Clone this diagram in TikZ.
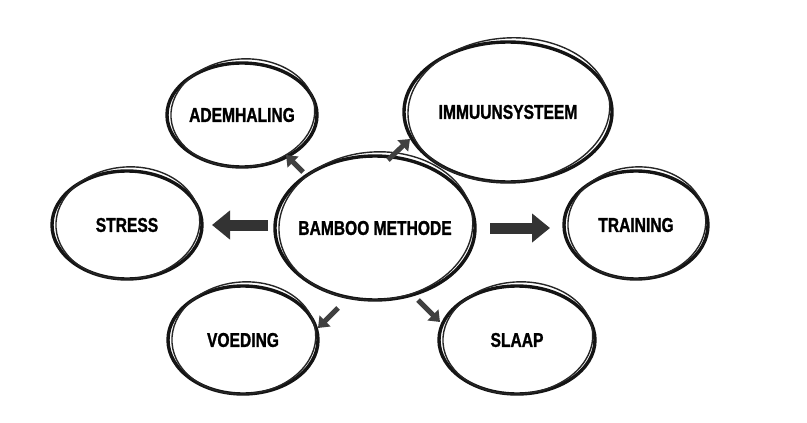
\documentclass[tikz,border=0pt]{standalone}
\usepackage{fontspec}
\setmainfont{Liberation Sans}[FakeStretch=0.78,BoldFeatures={FakeBold=1.2}]
\usetikzlibrary{arrows.meta}
\begin{document}
\begin{tikzpicture}[x=1pt,y=-1pt,
  bub/.style={draw=black!92,line width=3.4pt},
  bub2/.style={draw=black!85,line width=1.4pt},
  lab/.style={font=\bfseries\fontsize{20}{20}\selectfont},
  big/.style={-{Triangle[length=18pt,width=28pt]},line width=11pt,black!80},
  sm/.style={-{Triangle[length=10pt,width=15pt]},line width=5pt,black!75}]
\useasboundingbox (0,0) rectangle (807,423);
\def\bubble#1#2#3#4#5#6{%
  \draw[bub] (#2,#3) ellipse[x radius=#4,y radius=#5];
  \draw[bub2,rotate around={4:(#2,#3)}] (#2+1,#3-2) ellipse[x radius=#4-3,y radius=#5+2];
  \node[lab] (#1) at (#2,#3) {#6};}
\bubble{c}{375}{228}{100}{72}{BAMBOO METHODE}
\bubble{a}{242}{115}{75}{52}{ADEMHALING}
\bubble{i}{508}{112}{104}{70}{IMMUUNSYSTEEM}
\bubble{s}{127}{225}{75}{54}{STRESS}
\bubble{t}{636}{225}{72}{54}{TRAINING}
\bubble{v}{243}{340}{75}{54}{VOEDING}
\bubble{l}{517}{340}{78}{54}{SLAAP}
\coordinate (cl) at (268,225); \coordinate (cr) at (490,228);
\coordinate (ca) at (303,172); \coordinate (ci) at (388,160);
\coordinate (cv) at (338,308); \coordinate (cs) at (418,300);
\draw[big] (cl) -- (212,225);
\draw[big] (cr) -- (550,228);
\draw[sm] (ca) -- (286,155);
\draw[sm] (ci) -- (410,139);
\draw[sm] (cv) -- (318,328);
\draw[sm] (cs) -- (440,322);
\end{tikzpicture}
\end{document}
